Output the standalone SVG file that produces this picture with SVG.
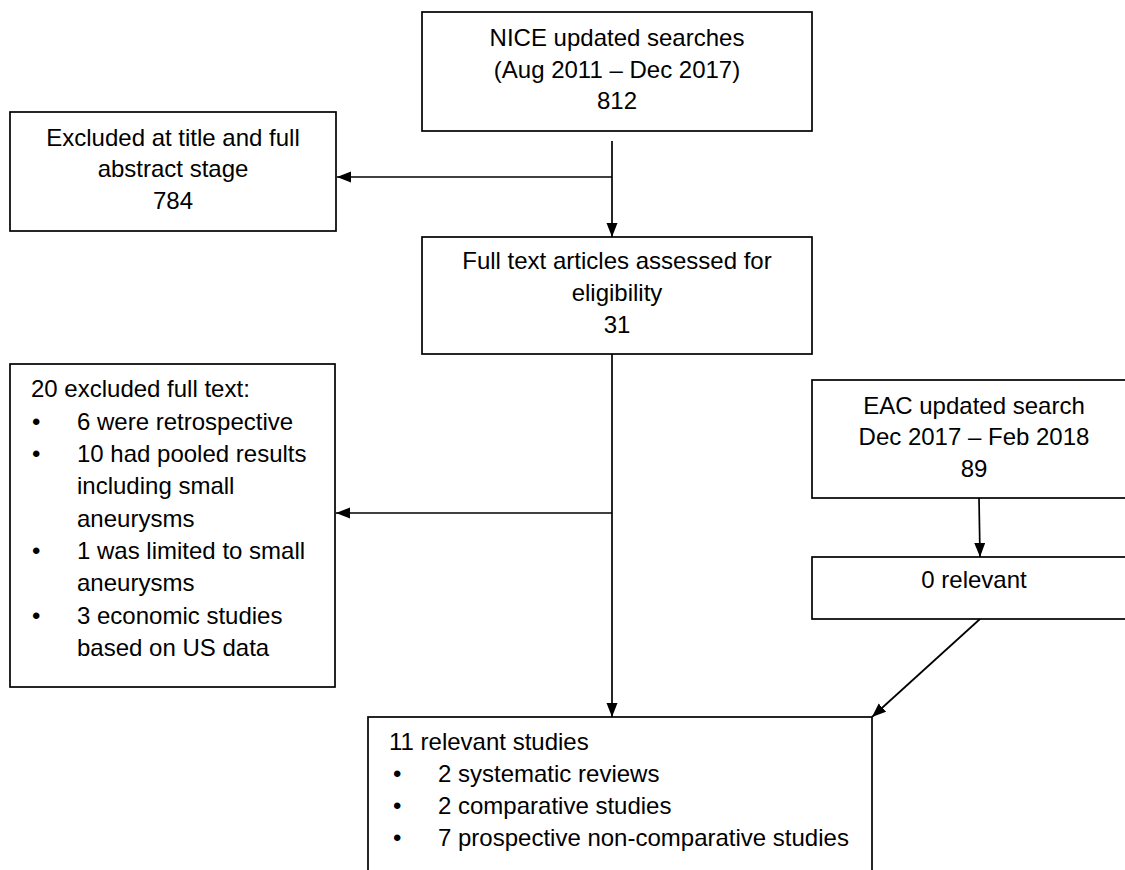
<svg xmlns="http://www.w3.org/2000/svg" width="1125" height="870" viewBox="0 0 1125 870">
<style>
.box{fill:#fff;stroke:#000;stroke-width:1.7}
.t{font-family:"Liberation Sans",Arial,sans-serif;font-size:24px;fill:#000}
.c{text-anchor:middle}
.con{stroke:#000;stroke-width:1.7;fill:none}
</style>
<defs>
<marker id="ah" markerUnits="userSpaceOnUse" markerWidth="15" markerHeight="12" refX="14" refY="5.5" orient="auto">
<path d="M0,0 L14,5.5 L0,11 z" fill="#000"/>
</marker>
</defs>
<rect width="1125" height="870" fill="#fff"/>
<g id="nice">
<rect class="box" x="422" y="12" width="390" height="119"/>
<text class="t c" x="617" y="46">NICE updated searches</text>
<text class="t c" x="617" y="78">(Aug 2011 – Dec 2017)</text>
<text class="t c" x="617" y="109">812</text>
</g>
<g id="excluded-title">
<rect class="box" x="10" y="112" width="326" height="119"/>
<text class="t c" x="173" y="146">Excluded at title and full</text>
<text class="t c" x="173" y="177">abstract stage</text>
<text class="t c" x="173" y="209">784</text>
</g>
<g id="fulltext">
<rect class="box" x="422" y="237" width="390" height="117"/>
<text class="t c" x="617" y="269">Full text articles assessed for</text>
<text class="t c" x="617" y="301">eligibility</text>
<text class="t c" x="617" y="333">31</text>
</g>
<g id="excluded-full">
<rect class="box" x="10" y="364" width="325" height="323"/>
<text class="t" x="31" y="397">20 excluded full text:</text>
<text class="t" x="32" y="430">•</text>
<text class="t" x="77" y="430">6 were retrospective</text>
<text class="t" x="32" y="462">•</text>
<text class="t" x="77" y="462">10 had pooled results</text>
<text class="t" x="77" y="494">including small</text>
<text class="t" x="77" y="527">aneurysms</text>
<text class="t" x="32" y="559">•</text>
<text class="t" x="77" y="559">1 was limited to small</text>
<text class="t" x="77" y="591">aneurysms</text>
<text class="t" x="32" y="624">•</text>
<text class="t" x="77" y="624">3 economic studies</text>
<text class="t" x="77" y="656">based on US data</text>
</g>
<g id="eac">
<rect class="box" x="812" y="380" width="324" height="118"/>
<text class="t c" x="974" y="414">EAC updated search</text>
<text class="t c" x="974" y="445">Dec 2017 – Feb 2018</text>
<text class="t c" x="974" y="477">89</text>
</g>
<g id="zero">
<rect class="box" x="812" y="557" width="324" height="62"/>
<text class="t c" x="974" y="588">0 relevant</text>
</g>
<g id="relevant">
<rect class="box" x="368" y="717" width="504" height="200"/>
<text class="t" x="389" y="750">11 relevant studies</text>
<text class="t" x="393" y="782">•</text>
<text class="t" x="438" y="782">2 systematic reviews</text>
<text class="t" x="393" y="814">•</text>
<text class="t" x="438" y="814">2 comparative studies</text>
<text class="t" x="393" y="846">•</text>
<text class="t" x="438" y="846">7 prospective non-comparative studies</text>
</g>
<g id="connectors">
<line class="con" x1="612" y1="141" x2="612" y2="237" marker-end="url(#ah)"/>
<line class="con" x1="612" y1="177" x2="337" y2="177" marker-end="url(#ah)"/>
<line class="con" x1="612" y1="354" x2="612" y2="717" marker-end="url(#ah)"/>
<line class="con" x1="612" y1="513" x2="336" y2="513" marker-end="url(#ah)"/>
<line class="con" x1="979" y1="498" x2="980" y2="557" marker-end="url(#ah)"/>
<line class="con" x1="980" y1="619" x2="872" y2="717" marker-end="url(#ah)"/>
</g>
</svg>
